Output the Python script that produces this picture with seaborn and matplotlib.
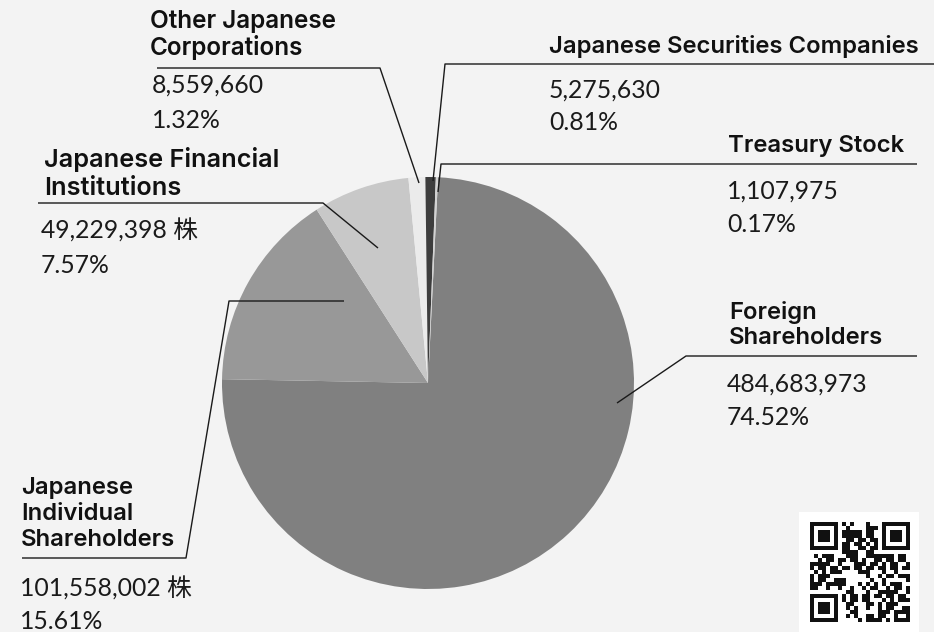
import matplotlib
matplotlib.use("Agg")
import matplotlib.pyplot as plt
import seaborn as sns
import numpy as np

# ---------------- data ----------------
categories = ["Foreign Shareholders", "Japanese Individual Shareholders",
              "Japanese Financial Institutions", "Other Japanese Corporations",
              "Japanese Securities Companies", "Treasury Stock"]
shares = [484683973, 101558002, 49229398, 8559660, 5275630, 1107975]
percents = ["74.52%", "15.61%", "7.57%", "1.32%", "0.81%", "0.17%"]
share_labels = ["484,683,973", "101,558,002 株", "49,229,398 株",
                "8,559,660", "5,275,630", "1,107,975"]
title_labels = ["Foreign\nShareholders", "Japanese\nIndividual\nShareholders",
                "Japanese Financial\nInstitutions", "Other Japanese\nCorporations",
                "Japanese Securities Companies", "Treasury Stock"]
colors = ["#808080", "#989898", "#c8c8c8", "#ebebeb", "#3d3d3d", "#d2d2d2"]

# ---------------- style ----------------
sns.set_theme(style="white")
plt.rcParams['font.family'] = ['Noto Sans CJK JP', 'DejaVu Sans']
BG = "#f3f3f3"

W, H = 934, 632
fig = plt.figure(figsize=(W / 100, H / 100), dpi=100, facecolor=BG)
ax = fig.add_axes([0, 0, 1, 1])
ax.set_facecolor(BG)


def Y(y):
    return H - y


cx, cy, R = 428, 383, 206
ax.pie(shares, colors=colors, startangle=87.2, counterclock=False,
       center=(cx, Y(cy)), radius=R, frame=True,
       wedgeprops=dict(linewidth=0))
ax.set_xlim(0, W)
ax.set_ylim(0, H)
ax.set_aspect("equal")
ax.axis("off")

LC = "#1a1a1a"
LW = 1.0


def line(pts):
    xs = [p[0] for p in pts]
    ys = [Y(p[1]) for p in pts]
    ax.plot(xs, ys, color=LC, lw=LW, solid_capstyle="butt", zorder=5)


TS = 17.2
NS = 17.8
TFAM = ['Inter', 'Noto Sans CJK JP', 'DejaVu Sans']
NFAM = ['Lato', 'Noto Sans CJK JP', 'DejaVu Sans']


def title(x, ybase_first, text, pitch, size=TS):
    for i, t in enumerate(text.split("\n")):
        ax.text(x, Y(ybase_first + i * pitch), t, fontsize=size, fontweight="semibold",
                family=TFAM, color="#111111", ha="left", va="baseline", zorder=6)


def nums(x, yb1, yb2, n, p):
    ax.text(x, Y(yb1), n, fontsize=NS, family=NFAM, color="#1a1a1a",
            ha="left", va="baseline")
    ax.text(x, Y(yb2), p, fontsize=NS, family=NFAM, color="#1a1a1a",
            ha="left", va="baseline")


# Foreign Shareholders (index 0)
title(729, 319, title_labels[0], 25)
line([(617, 403), (686, 356), (917, 356)])
nums(727, 392, 425, share_labels[0], percents[0])

# Japanese Individual Shareholders (index 1)
title(21, 494, title_labels[1], 26)
line([(344, 301), (229, 301), (186, 558), (22, 558)])
nums(20, 597, 629, share_labels[1], percents[1])

# Japanese Financial Institutions (index 2)
title(44, 167, title_labels[2], 28, size=18.2)
line([(378, 248), (323, 203), (38, 203)])
nums(41, 239, 273, share_labels[2], percents[2])

# Other Japanese Corporations (index 3)
title(150, 28, title_labels[3], 27, size=17.5)
line([(419, 183), (380, 68), (157, 68)])
nums(152, 93, 128, share_labels[3], percents[3])

# Japanese Securities Companies (index 4)
title(549, 53, title_labels[4], 25)
line([(433, 181), (445, 64), (934, 64)])
nums(549, 98, 130, share_labels[4], percents[4])

# Treasury Stock (index 5)
title(728, 152, title_labels[5], 25)
line([(438, 192), (441, 164), (917, 164)])
nums(727, 199, 232, share_labels[5], percents[5])

# ---------------- QR-like decoration ----------------
ax.add_patch(plt.Rectangle((799, Y(632)), 120, 120, color="white", zorder=3, lw=0))
N = 25
m = 4
x0, y0 = 810, 522
seed_text = "https://www.example.co.jp/ir/stock/shareholders-distribution.html"
bits = []
for ch in seed_text * 12:
    v = ord(ch)
    bits.extend([(v >> k) & 1 for k in range(7)])
grid = np.zeros((N, N), dtype=int)
idx = 0
for r in range(N):
    for c in range(N):
        grid[r, c] = bits[(idx * 7 + r * 3) % len(bits)] ^ ((r + c) % 3 == 0)
        idx += 1


def finder(r0, c0):
    for r in range(-1, 8):
        for c in range(-1, 8):
            rr, cc = r0 + r, c0 + c
            if 0 <= rr < N and 0 <= cc < N:
                if r in (-1, 7) or c in (-1, 7):
                    grid[rr, cc] = 0
                elif r in (0, 6) or c in (0, 6) or (2 <= r <= 4 and 2 <= c <= 4):
                    grid[rr, cc] = 1
                else:
                    grid[rr, cc] = 0


finder(0, 0)
finder(0, N - 7)
finder(N - 7, 0)
for r in range(N):
    for c in range(N):
        if grid[r, c]:
            ax.add_patch(plt.Rectangle((x0 + c * m, Y(y0 + (r + 1) * m)), m, m,
                                       color="#111111", lw=0, zorder=4))

fig.savefig("out.png", dpi=100, facecolor=BG)
